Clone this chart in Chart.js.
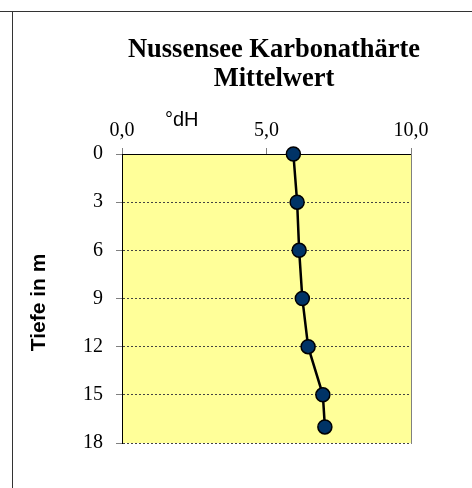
<!DOCTYPE html>
<html>
<head>
<meta charset="utf-8">
<script src="https://cdn.jsdelivr.net/npm/chart.js@4/dist/chart.umd.min.js"></script>
<style>
  html, body { margin: 0; padding: 0; background: #fff; }
  canvas { display: block; }
</style>
</head>
<body>
<canvas id="c" width="472" height="488"></canvas>
<script>
// ---- data ----
const titleLines = ['Nussensee Karbonathärte', 'Mittelwert'];
const xAxisTitle = '°dH';
const yAxisTitle = 'Tiefe in m';
const depths = [0, 3, 6, 9, 12, 15, 17];               // Tiefe in m
const hardness = [5.93, 6.06, 6.13, 6.24, 6.44, 6.95, 7.02]; // °dH
const xTicks = [0, 5, 10];
const yTicks = [0, 3, 6, 9, 12, 15, 18];

const points = depths.map((d, i) => ({ x: hardness[i], y: d }));

const decor = {
  id: 'decor',
  beforeDraw(chart) {
    const { ctx, chartArea: a } = chart;
    ctx.save();
    ctx.fillStyle = '#FFFF99';
    ctx.fillRect(a.left, a.top, a.right - a.left, a.bottom - a.top);
    ctx.restore();
  },
  afterDraw(chart) {
    const { ctx, chartArea: a } = chart;
    ctx.save();
    // outer frame
    ctx.fillStyle = '#333333';
    ctx.fillRect(0, 11, 472, 1);
    ctx.fillRect(12, 11, 1, 477);
    // right border of plot
    ctx.fillStyle = '#808080';
    ctx.fillRect(Math.round(a.right), a.top, 1, a.bottom - a.top + 1);
    // title
    ctx.fillStyle = '#000';
    ctx.textAlign = 'center';
    ctx.textBaseline = 'alphabetic';
    ctx.font = 'bold 26.5px "Liberation Serif"';
    ctx.fillText(titleLines[0], 274, 56.5);
    ctx.fillText(titleLines[1], 274, 86);
    // x axis title
    ctx.textAlign = 'left';
    ctx.font = '20px "Liberation Sans"';
    ctx.fillText(xAxisTitle, 165, 126);
    // y axis title
    ctx.translate(45, 302.5);
    ctx.rotate(-Math.PI / 2);
    ctx.textAlign = 'center';
    ctx.font = 'bold 21px "Liberation Sans"';
    ctx.fillText(yAxisTitle, 0, 0);
    ctx.restore();
  }
};

new Chart(document.getElementById('c'), {
  type: 'scatter',
  data: {
    datasets: [{
      data: points,
      showLine: true,
      borderColor: '#000',
      borderWidth: 2.5,
      pointRadius: 7,
      pointHoverRadius: 7,
      pointBackgroundColor: '#003366',
      pointBorderColor: '#000',
      pointBorderWidth: 1.5,
      clip: false,
      tension: 0
    }]
  },
  options: {
    responsive: false,
    animation: false,
    events: [],
    layout: { padding: { left: 0, top: 0, right: 61, bottom: 45 } },
    plugins: { legend: { display: false }, tooltip: { enabled: false }, title: { display: false } },
    scales: {
      x: {
        type: 'linear',
        position: 'top',
        min: 0, max: 10,
        afterFit(s) { s.height = 154; },
        afterBuildTicks(s) { s.ticks = xTicks.map(v => ({ value: v })); },
        ticks: {
          color: '#000',
          padding: 5,
          font: { family: '"Liberation Serif"', size: 20 },
          callback: v => v.toFixed(1).replace('.', ','),
          maxRotation: 0,
          autoSkip: false
        },
        grid: { drawOnChartArea: false, drawTicks: true, tickLength: 6, tickColor: '#808080', color: '#808080' },
        border: { display: true, color: '#000', width: 1 }
      },
      y: {
        type: 'linear',
        position: 'left',
        reverse: true,
        min: 0, max: 18,
        afterFit(s) { s.width = 122; },
        afterBuildTicks(s) { s.ticks = yTicks.map(v => ({ value: v })); },
        ticks: {
          color: '#000',
          padding: 13,
          font: { family: '"Liberation Serif"', size: 20 },
          autoSkip: false
        },
        grid: {
          drawOnChartArea: true,
          drawTicks: true,
          tickLength: 6,
          tickColor: '#808080',
          tickBorderDash: [],
          lineWidth: 1,
          color: ctx => (ctx.tick && ctx.tick.value === 0) ? 'rgba(0,0,0,0)' : '#444444'
        },
        border: { display: true, color: '#000', width: 1, dash: [2, 2] }
      }
    }
  },
  plugins: [decor]
});
</script>
</body>
</html>
